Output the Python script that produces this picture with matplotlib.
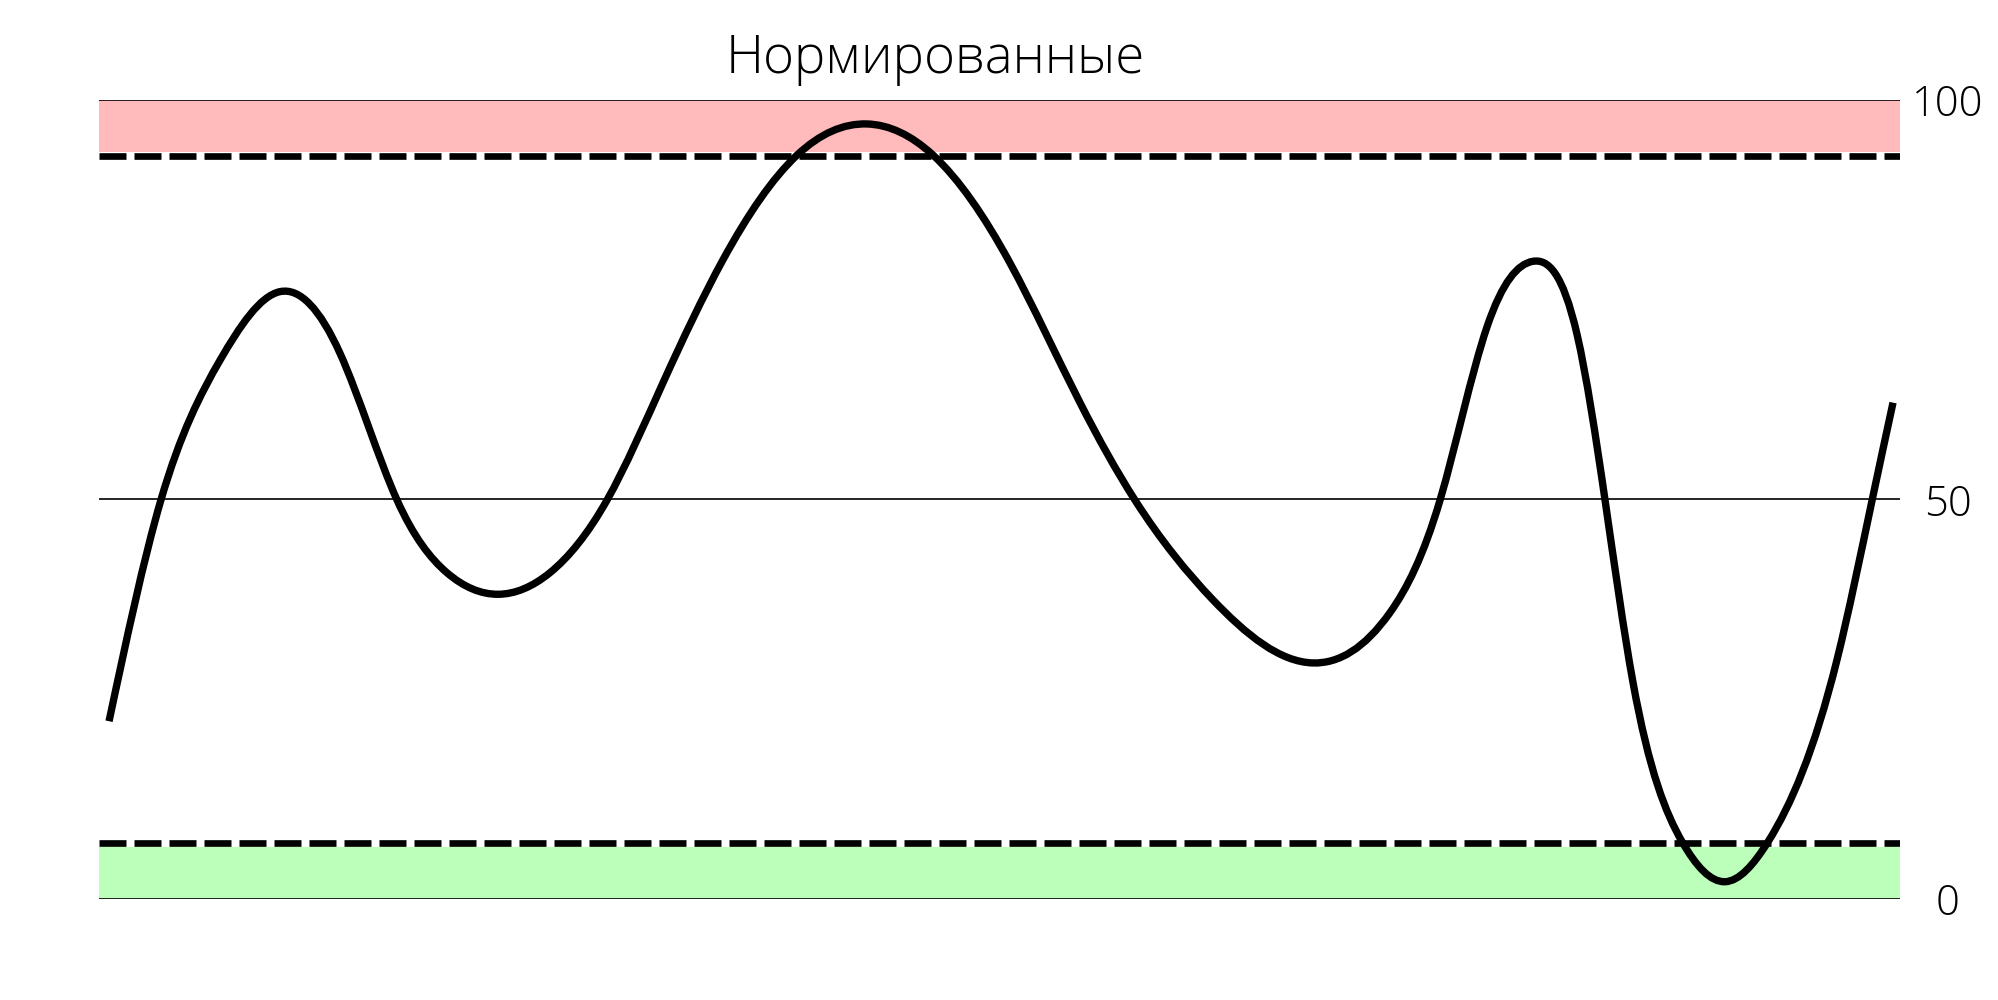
import numpy as np
import matplotlib.pyplot as plt
from matplotlib import font_manager
from matplotlib.path import Path
from matplotlib.patches import PathPatch

# time on a 0..100 scale, value on the 0..100 normalised scale
x = [0.56, 3.44, 6.72, 10.05, 13.38, 16.55, 19.32, 22.15, 25.04, 28.21,
     31.32, 34.65, 38.76, 42.64, 46.31, 50.58, 54.47, 57.52, 61.85, 67.41,
     71.68, 74.46, 77.07, 79.62, 82.07, 83.62, 85.17, 87.90, 90.28, 92.67,
     96.50, 98.45, 99.61]
values = [22.2, 49.9, 67.4, 76.0, 68.3, 49.9, 40.8, 38.1, 40.8, 49.9,
          64.6, 80.0, 93.1, 97.0, 93.1, 79.6, 62.1, 49.9, 37.4, 29.5,
          35.8, 49.9, 71.6, 79.8, 70.6, 49.9, 27.1, 7.1, 2.1, 7.1,
          29.9, 49.9, 62.1]

levels = [0, 50, 100]
upper_level = 93
lower_level = 7
overbought_zone = (93.5, 100)
oversold_zone = (0, 6.5)
title = 'Нормированные'

# light Open Sans if it is there
names = {f.name for f in font_manager.fontManager.ttflist}
family = ['Open Sans', 'DejaVu Sans'] if 'Open Sans' in names else ['DejaVu Sans']
plt.rcParams['font.family'] = family


def smooth_path(xs, ys):
    # smooth (natural spline) line through the points, as bezier segments
    xs = np.asarray(xs, float)
    ys = np.asarray(ys, float)
    n = len(xs)
    h = np.diff(xs)
    d = np.diff(ys) / h
    A = np.zeros((n, n))
    b = np.zeros(n)
    A[0, 0], A[0, 1], b[0] = 2, 1, 3 * d[0]
    A[-1, -2], A[-1, -1], b[-1] = 1, 2, 3 * d[-1]
    for k in range(1, n - 1):
        A[k, k - 1] = h[k]
        A[k, k] = 2 * (h[k - 1] + h[k])
        A[k, k + 1] = h[k - 1]
        b[k] = 3 * (h[k] * d[k - 1] + h[k - 1] * d[k])
    m = np.linalg.solve(A, b)
    verts = [(xs[0], ys[0])]
    codes = [Path.MOVETO]
    for i in range(n - 1):
        t = h[i] / 3
        verts += [(xs[i] + t, ys[i] + m[i] * t),
                  (xs[i + 1] - t, ys[i + 1] - m[i + 1] * t),
                  (xs[i + 1], ys[i + 1])]
        codes += [Path.CURVE4] * 3
    return Path(verts, codes)


fig = plt.figure(figsize=(19.99, 10), dpi=100)
ax = fig.add_axes([0.0495, 0.1015, 0.901, 0.7985])
ax.set_xlim(0, 100)
ax.set_ylim(0, 100)

ax.axhspan(*overbought_zone, color='#ffbbbb', lw=0, zorder=1)
ax.axhspan(*oversold_zone, color='#bbffbb', lw=0, zorder=1)

for lv in levels:
    ax.axhline(lv, color='black', lw=1.2, zorder=2)

for lv in (upper_level, lower_level):
    ln, = ax.plot([0, 100], [lv, lv], color='black', lw=4.8, zorder=3,
                  solid_capstyle='butt', dash_capstyle='butt')
    ln.set_dashes((4.05, 1.2))

ax.add_patch(PathPatch(smooth_path(x, values), facecolor='none', edgecolor='black',
                       lw=5.3, zorder=4, capstyle='butt', joinstyle='round'))

for s in ax.spines.values():
    s.set_visible(False)
ax.set_xticks([])
ax.yaxis.tick_right()
ax.set_yticks(levels)
ax.set_yticklabels([str(v) for v in levels])
ax.tick_params(axis='y', length=0, pad=34.5, labelsize=30, labelcolor='black')
for lbl in ax.get_yticklabels():
    lbl.set_horizontalalignment('center')
    lbl.set_fontweight('light')

fig.text(935 / 1999, 1 - 73 / 1000, title, ha='center', va='baseline',
         fontsize=38, fontweight='light', color='black')

fig.savefig('out.png', dpi=100, facecolor='white')
plt.close(fig)
